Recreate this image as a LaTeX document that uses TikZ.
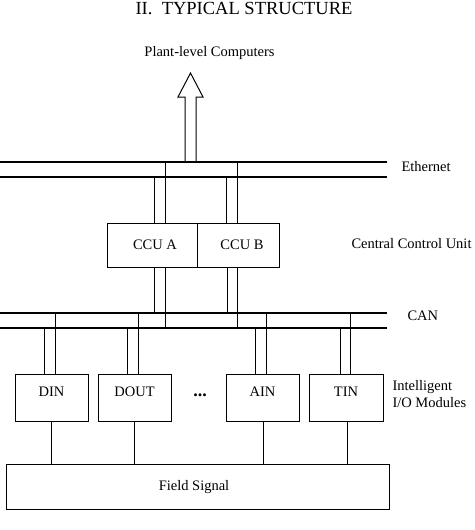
\documentclass[tikz,border=0pt]{standalone}
\usepackage{fontspec}
\setmainfont{Liberation Serif}
\usetikzlibrary{calc}
\begin{document}
\begin{tikzpicture}[x=1pt,y=-1pt,line width=1pt,
  box/.style={draw,line width=1pt,inner sep=0pt},
  lbl/.style={font=\fontsize{14.5}{16.5}\selectfont,inner sep=0pt},
  bus/.style={line width=1.1pt},
  wire/.style={line width=0.8pt}]
\useasboundingbox (0,0) rectangle (474,530);
\fill[white] (0,0) rectangle (474,530);

% title and top label
\node[font=\fontsize{18.5}{20}\selectfont,anchor=base,inner sep=0pt] (title) at (244,14.5) {II.\ \ TYPICAL STRUCTURE};
\node[lbl,anchor=base] (plant) at (209.5,56) {Plant-level Computers};

% hollow arrow
\coordinate (tip) at (190.5,73);
\draw (185,162) -- (185,97) -- (178,97) -- (tip) -- (203,97) -- (196,97) -- (196,162);

% Ethernet
\coordinate (e1L) at (0,162); \coordinate (e1R) at (387,162);
\coordinate (e2L) at (0,177); \coordinate (e2R) at (387,177);
\draw[bus] (e1L) -- (e1R);
\draw[bus] (e2L) -- (e2R);
\node[lbl,anchor=west] (eth) at (401,166.5) {Ethernet};

% CCU
\node[box,minimum width=90,minimum height=44] (ccua) at (152,245) {};
\node[box,minimum width=82,minimum height=44] (ccub) at (238,245) {};
\node[lbl] (ccuat) at (155,245) {CCU A};
\node[lbl] (ccubt) at (242,245) {CCU B};
\node[lbl,anchor=west] (ccul) at (351,244) {Central Control Unit};

\coordinate (ea1) at (165,162); \coordinate (ea2) at (154,177);
\coordinate (eb1) at (237,162); \coordinate (eb2) at (226,177);
\draw (ea1) -- (ea1 |- ccua.north);
\draw (ea2) -- (ea2 |- ccua.north);
\draw (eb1) -- (eb1 |- ccub.north);
\draw (eb2) -- (eb2 |- ccub.north);

% CAN
\coordinate (c1L) at (0,313); \coordinate (c1R) at (387,313);
\coordinate (c2L) at (0,328); \coordinate (c2R) at (387,328);
\draw[bus] (c1L) -- (c1R);
\draw[bus] (c2L) -- (c2R);
\node[lbl,anchor=west] (can) at (407,316) {CAN};

\coordinate (ca1) at (154,313); \coordinate (ca2) at (165,328);
\coordinate (cb1) at (227,313); \coordinate (cb2) at (237,328);
\draw (ccua.south -| ca1) -- (ca1);
\draw (ccua.south -| ca2) -- (ca2);
\draw (ccub.south -| cb1) -- (cb1);
\draw (ccub.south -| cb2) -- (cb2);

% I/O modules
\node[box,minimum width=73,minimum height=47] (din) at (51.5,397.5) {};
\node[box,minimum width=73,minimum height=47] (dout) at (134.5,397.5) {};
\node[box,minimum width=73,minimum height=47] (ain) at (262.5,397.5) {};
\node[box,minimum width=74,minimum height=47] (tin) at (346,397.5) {};
\node[lbl] (dint) at ([yshift=6pt]din.center) {DIN};
\node[lbl] (doutt) at ([yshift=6pt]dout.center) {DOUT};
\node[lbl] (aint) at ([yshift=6pt]ain.center) {AIN};
\node[lbl] (tint) at ([yshift=6pt]tin.center) {TIN};
\node[lbl,font=\fontsize{18}{18}\selectfont\bfseries] (dots) at (200,395) {...};
\node[lbl,anchor=west,align=left] (iom) at (392,394) {Intelligent\\I/O Modules};

\coordinate (d1) at (55,313);  \coordinate (d2) at (44,328);
\coordinate (o1) at (138,313); \coordinate (o2) at (127,328);
\coordinate (a1) at (266,313); \coordinate (a2) at (255,328);
\coordinate (t1) at (350,313); \coordinate (t2) at (340,328);
\draw (d1) -- (d1 |- din.north);
\draw (d2) -- (d2 |- din.north);
\draw (o1) -- (o1 |- dout.north);
\draw (o2) -- (o2 |- dout.north);
\draw (a1) -- (a1 |- ain.north);
\draw (a2) -- (a2 |- ain.north);
\draw (t1) -- (t1 |- tin.north);
\draw (t2) -- (t2 |- tin.north);

% Field signal
\node[box,minimum width=383,minimum height=45] (field) at (197.5,486.5) {};
\node[lbl] (fieldt) at (194,487) {Field Signal};
\coordinate (f1) at (51,0); \coordinate (f2) at (134,0);
\coordinate (f3) at (263,0); \coordinate (f4) at (347,0);
\draw[wire] (din.south -| f1) -- (field.north -| f1);
\draw[wire] (dout.south -| f2) -- (field.north -| f2);
\draw[wire] (ain.south -| f3) -- (field.north -| f3);
\draw[wire] (tin.south -| f4) -- (field.north -| f4);
\end{tikzpicture}
\end{document}
